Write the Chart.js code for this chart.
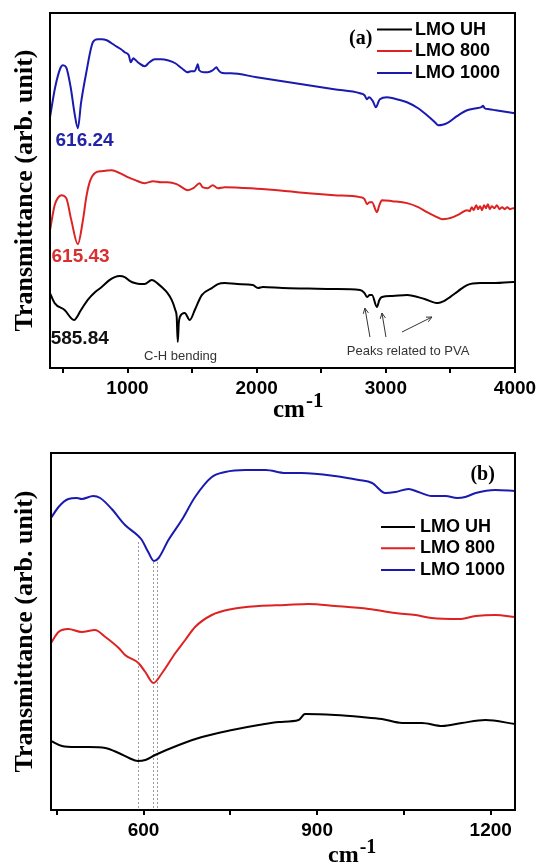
<!DOCTYPE html>
<html>
<head>
<meta charset="utf-8">
<script src="https://cdn.jsdelivr.net/npm/chart.js@4"></script>
<style>
  body { margin: 0; background: #fff; }
  .panel { position: absolute; left: 0; width: 538px; }
</style>
</head>
<body>
<div class="panel" style="top:0;height:440px"><canvas id="chart-a" width="538" height="440"></canvas></div>
<div class="panel" style="top:440px;height:424px"><canvas id="chart-b" width="538" height="424"></canvas></div>
<script>
// Panel (a) – full FTIR range, 400–4000 cm-1 (curves offset vertically, arb. units)
const waveA_UH = [400, 436, 513, 585.84, 640, 691, 750, 800, 860, 901, 940, 978, 1020, 1056, 1100, 1133, 1188, 1230, 1265, 1310, 1343, 1370, 1381, 1389, 1397, 1405, 1443, 1482, 1521, 1575, 1653, 1700, 1753, 1850, 1970, 2010, 2048, 2200, 2400, 2600, 2800, 2835, 2854, 2875, 2893, 2931, 2950, 2970, 3050, 3164, 3300, 3404, 3450, 3497, 3560, 3629, 3730, 3850, 3985, 4000];
const transA_UH = [75, 65, 58, 48, 58, 68, 76, 81, 88, 91, 92, 91, 87, 85, 84, 84, 88, 85, 81, 75, 68, 58, 51, 26, 45, 51, 55, 48, 58, 73, 80, 84, 85, 84, 83, 80, 81, 80, 79.5, 79, 78, 75, 71, 73, 73, 61, 68, 71, 72, 73, 69, 65, 67, 71, 77, 83, 85, 85, 86, 86];

const waveA_800 = [400, 436, 460, 488, 526, 565, 615.43, 655, 681, 707, 746, 800, 878, 940, 1002, 1060, 1133, 1200, 1260, 1311, 1380, 1420, 1466, 1510, 1559, 1580, 1620, 1660, 1700, 1753, 2000, 2200, 2400, 2600, 2800, 2835, 2854, 2875, 2893, 2931, 2950, 2970, 3050, 3164, 3250, 3319, 3380, 3435, 3480, 3520, 3570, 3629, 3650, 3665, 3680, 3700, 3715, 3730, 3745, 3760, 3775, 3790, 3805, 3820, 3840, 3860, 3880, 3900, 3920, 3940, 3960, 3985, 4000];
const transA_800 = [138, 163, 170, 173, 170, 148, 124, 148, 171, 186, 195, 197, 198, 195, 191, 188, 185, 187, 186, 186, 184, 181, 178, 180, 185, 181, 180, 183, 180, 181, 179.5, 177.5, 175, 173, 171, 169, 164, 166, 166, 156, 163, 168, 167, 165, 161, 156, 152, 149, 149.5, 151, 154, 158, 157, 161, 158, 163, 159, 162, 158, 163, 160, 164, 159, 162, 160, 163, 159, 161, 159, 161, 159, 160, 160];

const waveA_1000 = [400, 440, 480, 500, 525, 560, 590, 616.24, 640, 680, 732, 769, 800, 839, 877, 900, 950, 978, 1010, 1025, 1045, 1056, 1090, 1133, 1170, 1211, 1260, 1311, 1370, 1420, 1466, 1490, 1520, 1535, 1544, 1555, 1590, 1621, 1660, 1690, 1699, 1720, 1753, 1800, 2000, 2200, 2400, 2600, 2800, 2835, 2854, 2870, 2900, 2923, 2945, 2954, 3009, 3100, 3164, 3250, 3319, 3380, 3404, 3440, 3474, 3550, 3629, 3700, 3740, 3753, 3765, 3800, 3850, 3900, 3950, 4000];
const transA_1000 = [251, 281, 300, 303, 301, 281, 255, 240, 265, 295, 326, 329, 329, 328, 325, 323, 319, 316, 313, 306, 310, 309, 305, 302, 306, 309, 309, 308, 305, 300, 296, 297, 297, 301, 304, 298, 296, 296, 298, 301, 299, 296, 295, 295, 291, 287, 283, 279, 275, 273, 269, 271, 267, 261, 267, 269, 271, 268.5, 266, 260, 253, 246, 243, 243.5, 245, 252, 258, 260, 261, 262.5, 260, 259, 258, 257, 256, 255];

const ticksA = [500, 1000, 1500, 2000, 2500, 3000, 3500, 4000];
const labelsA = [1000, 2000, 3000, 4000];

// Panel (b) – zoom on the Mn–O band region, 440–1242 cm-1
const waveB_UH = [440, 459, 482, 505, 534, 557, 575, 590, 603, 620, 661, 701, 753, 799, 834, 868, 879, 931, 977, 1012, 1047, 1081, 1116, 1150, 1191, 1242];
const transB_UH = [69, 64, 63, 63, 62, 57, 52, 49, 50, 55, 65, 73, 80, 85, 88, 90, 96, 95, 93, 91, 87, 87, 84, 87, 90, 86];

const waveB_800 = [440, 453, 470, 493, 516, 534, 557, 568, 591, 603, 617, 632, 655, 672, 689, 718, 753, 799, 845, 885, 931, 989, 1035, 1070, 1098, 1145, 1174, 1208, 1242];
const transB_800 = [167, 178, 181, 178, 180, 173, 162, 155, 147, 138, 127, 137, 157, 170, 183, 195, 201, 204, 205, 206, 204, 201, 197, 195, 192, 191, 194, 195, 193];

const waveB_1000 = [440, 453, 470, 485, 493, 513, 525, 545, 568, 589, 597, 608, 618, 626, 643, 666, 689, 718, 741, 776, 811, 845, 873, 931, 972, 995, 1018, 1035, 1058, 1075, 1098, 1122, 1142, 1156, 1174, 1208, 1242];
const transB_1000 = [292, 303, 311, 312, 311, 314, 312, 301, 285, 275, 270, 258, 249, 252, 270, 290, 313, 333, 338, 340, 340, 337, 337, 334, 330, 327, 317, 318, 321, 318, 314, 314, 312, 313, 317, 320, 319];

const ticksB = [450, 600, 750, 900, 1050, 1200];
const labelsB = [600, 900, 1200];

const seriesNames = ['LMO UH', 'LMO 800', 'LMO 1000'];
const seriesColors = ['#000000', '#dd2222', '#1a1ab0'];

const pts = (xs, ys) => xs.map((x, i) => ({x: x, y: ys[i]}));

const SANS = '"Liberation Sans", Arial, sans-serif';
const SERIF = '"Liberation Serif", "Times New Roman", serif';

// frame, inline legend, notes, arrows, guide lines and the cm-1 axis title
const panelDecor = {
    id: 'panelDecor',
    beforeDatasetsDraw(chart, args, opts) {
        const {ctx, scales: {x, y}} = chart;
        ctx.save();
        ctx.strokeStyle = '#9a9a9a';
        ctx.lineWidth = 1;
        ctx.setLineDash([2, 2]);
        (opts.guides || []).forEach(g => {
            const px = Math.round(x.getPixelForValue(g.x)) + 0.5;
            ctx.beginPath();
            ctx.moveTo(px, y.getPixelForValue(g.from));
            ctx.lineTo(px, y.getPixelForValue(g.to));
            ctx.stroke();
        });
        ctx.restore();
    },
    afterDraw(chart, args, opts) {
        const {ctx, chartArea: a, scales: {x, y}} = chart;
        ctx.save();

        ctx.strokeStyle = '#000';
        ctx.lineWidth = 2;
        ctx.strokeRect(a.left, a.top, a.right - a.left, a.bottom - a.top);

        // legend inside the plot
        const lg = opts.legend;
        ctx.font = 'bold 18px ' + SANS;
        ctx.textAlign = 'left';
        ctx.textBaseline = 'middle';
        chart.data.datasets.forEach((ds, i) => {
            const ly = a.top + lg.rows[i];
            ctx.strokeStyle = ds.borderColor;
            ctx.lineWidth = 2;
            ctx.beginPath();
            ctx.moveTo(a.left + lg.x1, ly);
            ctx.lineTo(a.left + lg.x2, ly);
            ctx.stroke();
            ctx.fillStyle = '#000';
            ctx.fillText(ds.label, a.left + lg.tx, ly);
        });

        // text notes placed in data units
        (opts.notes || []).forEach(t => {
            ctx.font = t.font;
            ctx.fillStyle = t.color;
            ctx.textAlign = t.align;
            ctx.textBaseline = 'middle';
            ctx.fillText(t.text, x.getPixelForValue(t.x), y.getPixelForValue(t.y));
        });

        // arrows pointing at the PVA bands
        ctx.strokeStyle = '#333';
        ctx.lineWidth = 1;
        (opts.arrows || []).forEach(ar => {
            const x0 = x.getPixelForValue(ar.x0), y0 = y.getPixelForValue(ar.y0);
            const x1 = x.getPixelForValue(ar.x1), y1 = y.getPixelForValue(ar.y1);
            const ang = Math.atan2(y1 - y0, x1 - x0);
            ctx.beginPath();
            ctx.moveTo(x0, y0);
            ctx.lineTo(x1, y1);
            ctx.moveTo(x1 - 6 * Math.cos(ang - 0.45), y1 - 6 * Math.sin(ang - 0.45));
            ctx.lineTo(x1, y1);
            ctx.lineTo(x1 - 6 * Math.cos(ang + 0.45), y1 - 6 * Math.sin(ang + 0.45));
            ctx.stroke();
        });

        // x axis title with superscript
        const xt = opts.xTitle;
        const tx = a.left + xt.dx, ty = a.bottom + xt.dy;
        ctx.fillStyle = '#000';
        ctx.textAlign = 'left';
        ctx.textBaseline = 'alphabetic';
        ctx.font = 'bold ' + xt.size + 'px ' + SERIF;
        ctx.fillText(xt.text, tx, ty);
        const w = ctx.measureText(xt.text).width;
        ctx.font = 'bold ' + xt.supSize + 'px ' + SERIF;
        ctx.fillText(xt.sup, tx + w + 1, ty - xt.supRise);

        ctx.restore();
    }
};

function makeDatasets(xsList, ysList) {
    return seriesNames.map((name, i) => ({
        label: name,
        data: pts(xsList[i], ysList[i]),
        borderColor: seriesColors[i],
        borderWidth: 2,
        pointRadius: 0,
        fill: false,
        cubicInterpolationMode: 'monotone',
        borderJoinStyle: 'round',
    }));
}

function makeOptions(p) {
    return {
        responsive: false,
        animation: false,
        events: [],
        layout: {padding: {left: 0, top: 13, right: 23, bottom: 0}},
        scales: {
            x: {
                type: 'linear',
                position: 'bottom',
                min: p.xMin,
                max: p.xMax,
                afterBuildTicks: s => { s.ticks = p.ticks.map(v => ({value: v})); },
                afterFit: s => {
                    s.height = p.xHeight;
                    // end labels may hang past the frame; keep the plot width fixed
                    s.paddingLeft = 0;
                    s.paddingRight = 0;
                },
                ticks: {
                    autoSkip: false,
                    maxRotation: 0,
                    minRotation: 0,
                    padding: 4,
                    color: '#000',
                    font: {family: SANS, size: 19, weight: 'bold'},
                    callback: v => p.labels.includes(v) ? String(v) : '',
                },
                grid: {display: true, drawOnChartArea: false, drawTicks: true, tickLength: 5, color: '#000', lineWidth: 2},
                border: {display: false},
            },
            y: {
                type: 'linear',
                min: 0,
                max: p.yMax,
                afterFit: s => { s.width = p.yWidth; },
                ticks: {display: false},
                grid: {display: false},
                border: {display: false},
                title: {
                    display: true,
                    text: 'Transmittance (arb. unit)',
                    color: '#000',
                    font: {family: SERIF, size: 26, weight: 'bold'},
                    padding: {top: 10, bottom: 0},
                },
            },
        },
        plugins: {
            legend: {display: false},
            tooltip: {enabled: false},
            panelDecor: p.decor,
        },
    };
}

const valueFont = 'bold 19px ' + SANS;
const noteFont = '13px ' + SANS;
const tagFont = 'bold 20px ' + SERIF;

new Chart(document.getElementById('chart-a'), {
    type: 'line',
    data: {datasets: makeDatasets([waveA_UH, waveA_800, waveA_1000], [transA_UH, transA_800, transA_1000])},
    options: makeOptions({
        xMin: 400, xMax: 4000, yMax: 355.3, yWidth: 50, xHeight: 72,
        ticks: ticksA, labels: labelsA,
        decor: {
            legend: {x1: 327, x2: 362, tx: 365, rows: [16.6, 38, 60]},
            notes: [
                {text: '616.24', x: 443, y: 227, font: valueFont, color: '#2323a8', align: 'left'},
                {text: '615.43', x: 412, y: 111.5, font: valueFont, color: '#d83030', align: 'left'},
                {text: '585.84', x: 405, y: 29.5, font: valueFont, color: '#111', align: 'left'},
                {text: 'C-H bending', x: 1411, y: 12, font: noteFont, color: '#333', align: 'center'},
                {text: 'Peaks related to PVA', x: 3172, y: 17, font: noteFont, color: '#333', align: 'center'},
                {text: '(a)', x: 2806, y: 329.5, font: tagFont, color: '#000', align: 'center'},
            ],
            arrows: [
                {x0: 2877, y0: 31, x1: 2838, y1: 60},
                {x0: 3001, y0: 31, x1: 2970, y1: 55},
                {x0: 3125, y0: 36, x1: 3357, y1: 51},
            ],
            guides: [],
            xTitle: {text: 'cm', sup: '-1', dx: 223, dy: 49, size: 25, supSize: 21, supRise: 10},
        },
    }),
    plugins: [panelDecor],
});

new Chart(document.getElementById('chart-b'), {
    type: 'line',
    data: {datasets: makeDatasets([waveB_UH, waveB_800, waveB_1000], [transB_UH, transB_800, transB_1000])},
    options: makeOptions({
        xMin: 440, xMax: 1242, yMax: 357, yWidth: 51, xHeight: 54,
        ticks: ticksB, labels: labelsB,
        decor: {
            legend: {x1: 330, x2: 364, tx: 369, rows: [74, 95.3, 117]},
            notes: [
                {text: '(b)', x: 1186, y: 335, font: tagFont, color: '#000', align: 'center'},
            ],
            arrows: [],
            guides: [
                {x: 591, from: 268, to: 0},
                {x: 617, from: 248, to: 0},
                {x: 623, from: 248, to: 0},
            ],
            xTitle: {text: 'cm', sup: '-1', dx: 277, dy: 51.5, size: 24, supSize: 20, supRise: 9},
        },
    }),
    plugins: [panelDecor],
});
</script>
</body>
</html>
